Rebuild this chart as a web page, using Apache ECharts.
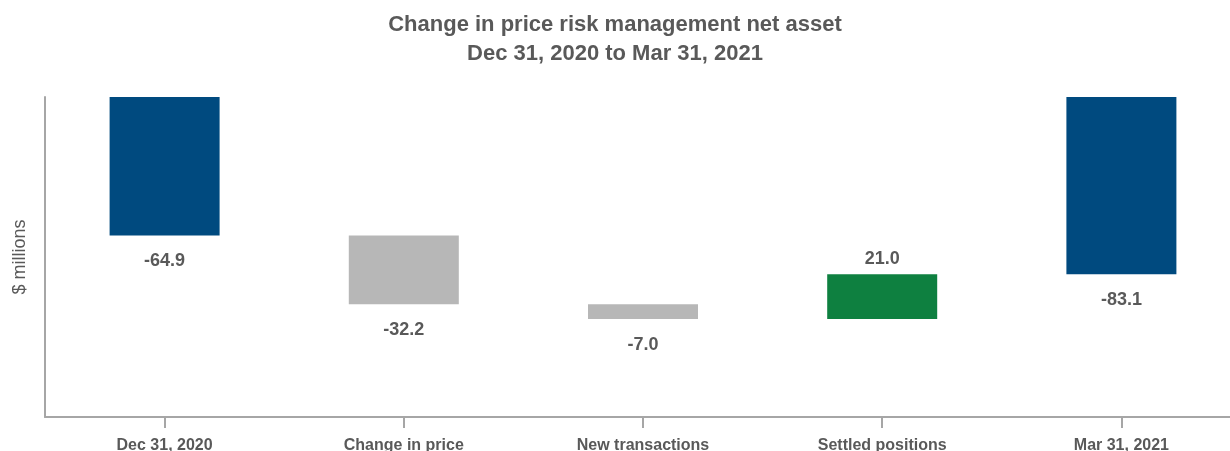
<!DOCTYPE html>
<html><head><meta charset="utf-8">
<script src="https://cdn.jsdelivr.net/npm/echarts@6/dist/echarts.min.js"></script>
<style>html,body{margin:0;padding:0;background:#fff}#c{width:1230px;height:451px}</style>
</head><body><div id="c"></div>
<script>
const categories = ['Dec 31, 2020', 'Change in price', 'New transactions', 'Settled positions', 'Mar 31, 2021'];
const values = [-64.9, -32.2, -7.0, 21.0, -83.1];
const kinds = ['total', 'delta', 'delta', 'delta', 'total'];
const titleLines = ['Change in price risk management net asset', 'Dec 31, 2020 to Mar 31, 2021'];
const yName = '$ millions';

const BLUE = '#004a7f', GRAY = '#b7b7b7', GREEN = '#0e8040', TXT = '#595959';
const FONT = '"Liberation Sans", Arial, sans-serif';

// waterfall: helper (transparent) + visible part, both stacked on negative side
let running = 0;
const helper = [], visible = [];
values.forEach((v, i) => {
  if (kinds[i] === 'total') {
    helper.push(0);
    visible.push({ value: v, itemStyle: { color: BLUE }, label: { position: 'bottom', distance: 17 }, raw: v });
    running = v;
  } else {
    const start = running, end = running + v;
    const top = Math.max(start, end), len = Math.abs(v);
    helper.push(top);
    visible.push({ value: -len, itemStyle: { color: v < 0 ? GRAY : GREEN },
      label: v < 0 ? { position: 'bottom', distance: 17 } : { position: 'top', distance: 6 }, raw: v });
    running = end;
  }
});

const chart = echarts.init(document.getElementById('c'), null, { renderer: 'canvas' });
chart.setOption({
  animation: false,
  textStyle: { fontFamily: FONT },
  title: {
    text: titleLines.join('\n'), left: 'center', top: 5,
    textStyle: { fontSize: 22, fontWeight: 'bold', color: TXT, lineHeight: 29, fontFamily: FONT }
  },
  grid: { left: 45, width: 1196, top: 97, bottom: 34, containLabel: false, outerBoundsMode: 'none' },
  xAxis: {
    type: 'category', data: categories,
    axisLine: { onZero: false, lineStyle: { color: '#a6a6a6', width: 2 } },
    axisTick: { show: true, alignWithLabel: true, length: 11, lineStyle: { color: '#a6a6a6', width: 2 } },
    axisLabel: { fontSize: 16, fontWeight: 'bold', color: TXT, margin: 21, fontFamily: FONT }
  },
  yAxis: {
    type: 'value', min: -150, max: 0, interval: 50,
    name: yName, nameLocation: 'middle', nameGap: 16, nameRotate: 90,
    nameTextStyle: { fontSize: 18, color: TXT, fontFamily: FONT },
    axisLine: { show: true, onZero: false, lineStyle: { color: '#a6a6a6', width: 2 } },
    axisTick: { show: false }, axisLabel: { show: false }, splitLine: { show: false }
  },
  series: [
    { type: 'bar', stack: 'w', data: helper, barWidth: 110,
      itemStyle: { color: 'transparent' }, silent: true },
    { type: 'bar', stack: 'w', data: visible, barWidth: 110,
      label: { show: true, fontSize: 18, fontWeight: 'bold', color: TXT, fontFamily: FONT,
        formatter: p => p.data.raw.toFixed(1) } }
  ]
});
</script></body></html>
